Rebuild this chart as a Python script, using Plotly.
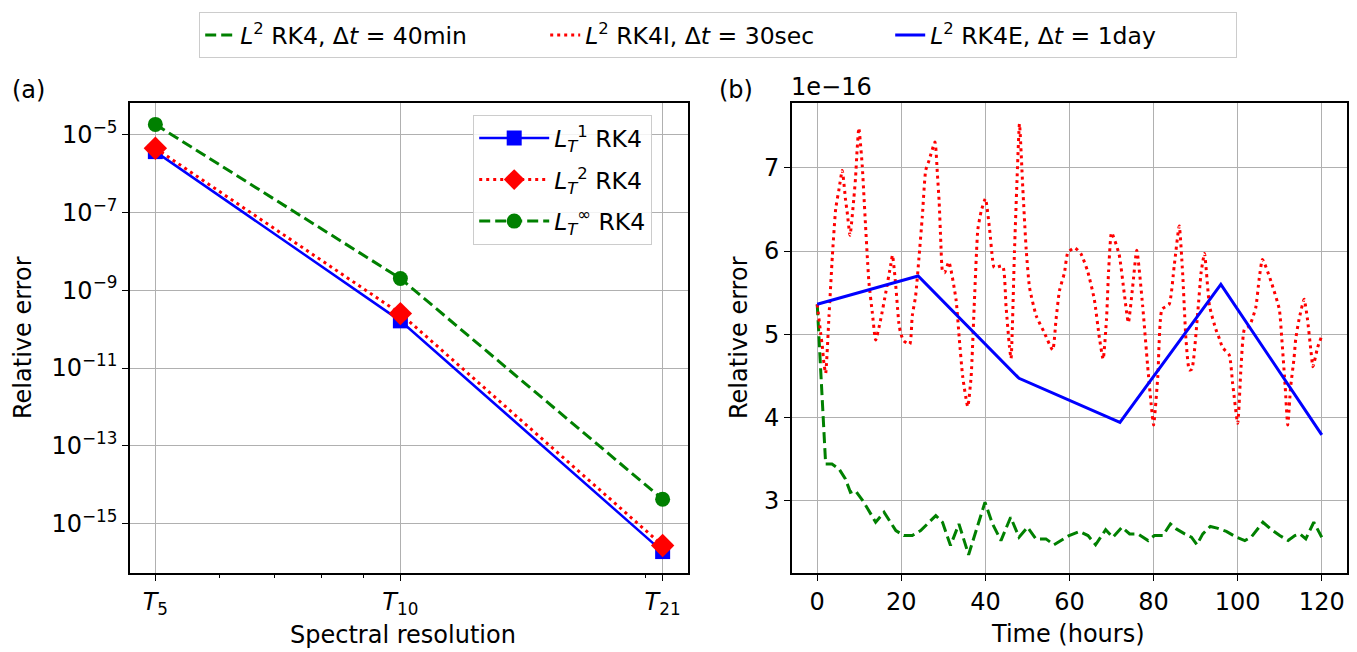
import math
import plotly.graph_objects as go

# ---------------- data: panel (a) ----------------
res = [5, 10, 21]
res_labels = ["<i>T</i><sub>5</sub>", "<i>T</i><sub>10</sub>", "<i>T</i><sub>21</sub>"]
err_L1 = [3.6e-6, 1.63e-10, 1.95e-16]
err_L2 = [4.4e-6, 2.5e-10, 2.8e-16]
err_Linf = [1.8e-5, 2.0e-9, 4.3e-15]
ytick_vals_a = [1e-5, 1e-7, 1e-9, 1e-11, 1e-13, 1e-15]
ytick_text_a = ["10<sup>\u22125</sup>", "10<sup>\u22127</sup>", "10<sup>\u22129</sup>",
                "10<sup>\u221211</sup>", "10<sup>\u221213</sup>", "10<sup>\u221215</sup>"]

# ---------------- data: panel (b) (units of 1e-16) ----------------
t_rk4 = [0, 0.67, 1.33, 2.0, 3.5, 5.2, 6.7, 7.9, 9.1, 11.1, 13.9, 15.9, 18.7, 20.6, 22.6,
         24.6, 28.2, 29.8, 31.7, 33.7, 36.0, 38.1, 39.9, 41.7, 43.7, 46.0, 48.0, 50.0, 52.0, 54.4,
         56.3, 59.9, 62.4, 64.4, 66.2, 68.6, 70.3, 72.5, 74.3, 76.3, 78.7, 80.2, 82.2, 84.0, 85.4,
         87.4, 89.0, 90.3, 91.7, 93.5, 95.1, 97.3, 99.7, 101.7, 103.2, 106.0, 107.8, 110.0, 112.0,
         113.6, 114.8, 116.2, 118.1, 120.0]
err_rk4 = [5.36, 4.75, 4.05, 3.44, 3.44, 3.38, 3.26, 3.10, 3.12, 2.98, 2.74, 2.86, 2.64, 2.58, 2.58,
           2.64, 2.82, 2.74, 2.46, 2.72, 2.35, 2.68, 2.98, 2.72, 2.52, 2.80, 2.56, 2.68, 2.54, 2.54,
           2.47, 2.58, 2.63, 2.58, 2.47, 2.65, 2.56, 2.68, 2.60, 2.60, 2.52, 2.58, 2.58, 2.72, 2.66,
           2.60, 2.56, 2.47, 2.60, 2.69, 2.67, 2.63, 2.56, 2.52, 2.56, 2.74, 2.66, 2.58, 2.52,
           2.58, 2.60, 2.54, 2.74, 2.56]

t_rk4i = [0, 0.8, 1.2, 1.6, 2.0, 2.8, 3.6, 4.4, 5.2, 5.95, 6.75, 7.1, 7.8, 8.7, 9.1, 9.5, 9.9,
          10.7, 11.1, 11.5, 11.9, 12.3, 13.1, 13.9, 15.1, 16.3, 17.5, 17.9, 18.65, 19.4, 19.8,
          20.6, 22.0, 22.6, 23.4, 24.2, 25.0, 25.8, 26.6, 28.0, 28.6, 29.0, 29.4, 29.8, 30.3,
          31.3, 33.0, 33.8, 34.6, 35.8, 36.6, 37.4, 38.2, 39.0, 40.0, 41.0, 41.7, 42.1, 44.1,
          44.9, 45.7, 46.1, 46.9, 47.5, 48.1, 48.9, 49.7, 50.5, 52.1, 54.0, 56.0, 56.8, 57.6,
          58.8, 59.6, 61.2, 62.7, 64.3, 65.9, 67.1, 68.0, 68.8, 69.3, 70.0, 71.8, 73.0, 74.0,
          75.0, 76.0, 77.4, 78.6, 79.4, 80.0, 81.0, 82.0, 83.7, 84.9, 86.1, 86.9, 87.7, 88.5,
          89.1, 90.5, 91.3, 92.1, 93.3, 94.8, 95.7, 96.4, 98.0, 98.8, 100.0, 100.8, 101.6,
          102.8, 104.3, 105.1, 105.9, 107.9, 109.9, 110.5, 111.3, 111.9, 112.6, 113.4, 113.8,
          114.6, 115.8, 116.6, 117.4, 117.9, 119.0, 120.0]
err_rk4i = [5.36, 5.02, 4.86, 4.65, 4.53, 5.22, 5.94, 6.51, 6.75, 6.97, 6.61, 6.48, 6.19, 6.63,
            6.87, 7.23, 7.48, 7.03, 6.67, 6.30, 5.94, 5.62, 5.26, 4.93, 5.18, 5.50, 5.84, 5.95,
            5.60, 5.14, 5.02, 4.92, 4.88, 5.22, 5.46, 5.92, 6.42, 6.97, 7.09, 7.31, 6.91, 6.59,
            6.10, 5.76, 5.74, 5.87, 5.42, 4.94, 4.49, 4.13, 4.49, 5.42, 6.26, 6.48, 6.63, 6.26,
            5.90, 5.80, 5.82, 5.34, 4.86, 4.71, 5.98, 6.83, 7.53, 6.75, 6.02, 5.56, 5.22, 5.02,
            4.81, 5.18, 5.52, 5.74, 5.98, 6.04, 5.97, 5.76, 5.42, 4.96, 4.70, 5.18, 5.76, 6.22,
            5.96, 5.50, 5.14, 5.56, 6.01, 5.34, 4.61, 4.17, 3.91, 4.49, 5.30, 5.36, 5.82, 6.30,
            5.74, 4.94, 4.57, 4.58, 5.26, 5.74, 5.97, 5.34, 5.06, 4.94, 4.84, 4.75, 4.41, 3.93,
            4.61, 5.06, 5.10, 5.32, 5.66, 5.90, 5.64, 5.30, 4.94, 4.37, 3.91, 4.37, 4.71, 4.94,
            5.18, 5.42, 5.18, 4.81, 4.61, 4.84, 4.98]

t_rk4e = [0, 24, 48, 72, 96, 120]
err_rk4e = [5.36, 5.70, 4.47, 3.94, 5.60, 3.79]

# ---------------- layout helpers ----------------
W, H = 1357, 652
FONT = "DejaVu Sans"
FS = 24
FSL = 23.5
BLUE, RED, GREEN = "#0000ff", "#ff0000", "#008000"
GRID = "#b0b0b0"


def fx(p):
    return p / W


def fy(p):
    return 1 - p / H


fig = go.Figure()

# panel (a)
fig.add_trace(go.Scatter(
    x=res, y=err_L1, mode="lines+markers", xaxis="x", yaxis="y", legend="legend2",
    legendgroup="a1",
    name="<i>L</i><sub><i>T</i></sub><sup>1</sup> RK4",
    line=dict(color=BLUE, width=2.5),
    marker=dict(symbol="square", size=15, color=BLUE)))
fig.add_trace(go.Scatter(
    x=res, y=err_L2, mode="lines+markers", xaxis="x", yaxis="y", legend="legend2",
    legendgroup="a2",
    name="<i>L</i><sub><i>T</i></sub><sup>2</sup> RK4",
    line=dict(color=RED, width=3, dash="3px,4px"),
    marker=dict(symbol="diamond", size=18, color=RED)))
fig.add_trace(go.Scatter(
    x=res, y=err_Linf, mode="lines+markers", xaxis="x", yaxis="y", legend="legend2",
    legendgroup="a3",
    name="<i>L</i><sub><i>T</i></sub><sup>\u221e</sup> RK4",
    line=dict(color=GREEN, width=3, dash="11px,5px"),
    marker=dict(symbol="circle", size=15, color=GREEN)))

# panel (b)
fig.add_trace(go.Scatter(
    x=t_rk4, y=err_rk4, mode="lines", xaxis="x2", yaxis="y2", legend="legend",
    name="<i>L</i><sup>2</sup> RK4, \u0394<i>t</i> = 40min",
    line=dict(color=GREEN, width=3, dash="11px,5px")))
fig.add_trace(go.Scatter(
    x=t_rk4i, y=err_rk4i, mode="lines", xaxis="x2", yaxis="y2", legend="legend",
    name="<i>L</i><sup>2</sup> RK4I, \u0394<i>t</i> = 30sec",
    line=dict(color=RED, width=3, dash="3px,4px", shape="spline", smoothing=0.5)))
fig.add_trace(go.Scatter(
    x=t_rk4e, y=err_rk4e, mode="lines", xaxis="x2", yaxis="y2", legend="legend",
    name="<i>L</i><sup>2</sup> RK4E, \u0394<i>t</i> = 1day",
    line=dict(color=BLUE, width=3)))

axis_common = dict(
    showgrid=True, gridcolor=GRID, gridwidth=1.2,
    showline=True, linecolor="black", linewidth=1.6, mirror=True,
    ticks="outside", ticklen=6, tickwidth=1.3, tickcolor="black",
    zeroline=False, automargin=False,
    tickfont=dict(family=FONT, size=FS, color="black"),
)

xa_lo = math.log10(5) - 0.05 * (math.log10(21) - math.log10(5))
xa_hi = math.log10(21) + 0.05 * (math.log10(21) - math.log10(5))

fig.update_layout(
    width=W, height=H,
    margin=dict(l=0, r=0, t=0, b=0),
    paper_bgcolor="white", plot_bgcolor="white",
    font=dict(family=FONT, size=FS, color="black"),
    xaxis=dict(axis_common, type="log", range=[xa_lo, xa_hi],
               domain=[fx(130), fx(688)], anchor="y",
               tickvals=res, ticktext=res_labels,
               minor=dict(tickvals=[6, 7, 8, 9, 20], ticks="outside", ticklen=3.5,
                          tickwidth=1, tickcolor="black", showgrid=False)),
    yaxis=dict(axis_common, type="log", range=[-16.26, -4.196],
               domain=[fy(573), fy(103)], anchor="x",
               tickvals=ytick_vals_a, ticktext=ytick_text_a),
    xaxis2=dict(axis_common, range=[-6, 126], domain=[fx(792), fx(1347)], anchor="y2",
                tick0=0, dtick=20),
    yaxis2=dict(axis_common, range=[2.13, 7.78], domain=[fy(573), fy(103)], anchor="x2",
                tick0=0, dtick=1),
    legend=dict(orientation="h", x=fx(718), xanchor="center", y=fy(12), yanchor="top",
                bgcolor="rgba(255,255,255,0.9)", bordercolor="#cccccc", borderwidth=1.2,
                font=dict(family=FONT, size=FSL, color="black"), traceorder="normal",
                entrywidth=300),
    legend2=dict(x=fx(473), xanchor="left", y=fy(115), yanchor="top",
                 bgcolor="rgba(255,255,255,0.85)", bordercolor="#cccccc", borderwidth=1.2,
                 font=dict(family=FONT, size=FSL, color="black"), traceorder="grouped",
                 tracegroupgap=8, itemwidth=70),
    showlegend=True,
)

ann = dict(showarrow=False, xref="paper", yref="paper",
           font=dict(family=FONT, size=FS, color="black"))
fig.add_annotation(ann, text="Relative error", x=fx(23), y=fy(338), textangle=-90,
                   xanchor="center", yanchor="middle")
fig.add_annotation(ann, text="Relative error", x=fx(739), y=fy(338), textangle=-90,
                   xanchor="center", yanchor="middle")
fig.add_annotation(ann, text="Spectral resolution", x=fx(403), y=fy(635),
                   xanchor="center", yanchor="middle")
fig.add_annotation(ann, text="Time (hours)", x=fx(1068), y=fy(634),
                   xanchor="center", yanchor="middle")
fig.add_annotation(ann, text="(a)", x=fx(28), y=fy(90), xanchor="center", yanchor="middle")
fig.add_annotation(ann, text="(b)", x=fx(736), y=fy(90), xanchor="center", yanchor="middle")
fig.add_annotation(ann, text="1e\u221216", x=fx(789), y=fy(87), xanchor="left", yanchor="middle")

fig.write_html("out.html")
